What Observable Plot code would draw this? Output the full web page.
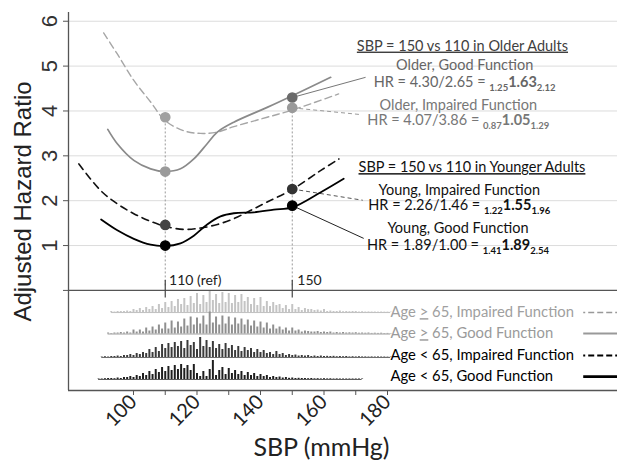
<!DOCTYPE html>
<html><head><meta charset="utf-8">
<script src="https://cdn.jsdelivr.net/npm/d3@7"></script>
<script src="https://cdn.jsdelivr.net/npm/@observablehq/plot@0.6"></script>
<style>body{margin:0;background:#fff} svg{display:block}</style>
</head><body><div id="chart"></div>
<script>
// ---------- data ----------
const olderImpairedSBP = [90.6, 94.9, 100.1, 105.4, 109.9, 115.8, 121.1, 126.4, 131.6, 142.1, 150, 164.6];
const olderImpairedHR  = [5.74, 5.27, 4.68, 4.20, 3.79, 3.56, 3.50, 3.53, 3.65, 3.86, 4.02, 4.38];
const olderGoodSBP = [91.9, 94.9, 100.1, 105.4, 109.9, 114.8, 119, 123.2, 126.4, 131.6, 142.1, 150, 162.1];
const olderGoodHR  = [3.59, 3.27, 2.90, 2.71, 2.65, 2.71, 2.93, 3.27, 3.53, 3.75, 4.08, 4.34, 4.75];
const youngImpairedSBP = [82.8, 89.6, 94.9, 100.1, 105.4, 109.9, 115.8, 121.1, 126.4, 131.6, 136.8, 142.1, 150, 158.9, 164.7];
const youngImpairedHR  = [2.82, 2.23, 1.93, 1.71, 1.54, 1.43, 1.36, 1.39, 1.47, 1.60, 1.78, 1.97, 2.25, 2.67, 2.93];
const youngGoodSBP = [89.8, 94.9, 100.1, 105.4, 109.9, 114.8, 119, 123.2, 127.4, 131.6, 137.9, 144.2, 150, 159, 166.2];
const youngGoodHR  = [1.58, 1.34, 1.15, 1.02, 0.99, 1.05, 1.22, 1.47, 1.65, 1.72, 1.74, 1.80, 1.85, 2.19, 2.49];

const groups = ["Older, Good Function", "Older, Impaired Function", "Young, Impaired Function", "Young, Good Function"];
const refSBP = [110, 110, 110, 110];
const cmpSBP = [150, 150, 150, 150];
const refHR = [2.65, 3.86, 1.46, 1.00];
const cmpHR = [4.30, 4.07, 2.26, 1.89];
const hrLo  = ["1.25", "0.87", "1.22", "1.41"];
const hrEst = ["1.63", "1.05", "1.55", "1.89"];
const hrHi  = ["2.12", "1.29", "1.96", "2.54"];
const headings = ["SBP = 150 vs 110 in Older Adults", "SBP = 150 vs 110 in Younger Adults"];

const legendLabels = ["Age \u2265 65, Impaired Function", "Age \u2265 65, Good Function", "Age < 65, Impaired Function", "Age < 65, Good Function"];

const yTicks = [1, 2, 3, 4, 5, 6];
const xTicks = [100, 110, 120, 130, 140, 150, 160, 170, 180];
const xTickLabels = ["100", "", "120", "", "140", "", "160", "", "180"];

// SBP distributions (1 mmHg bins, relative frequency)
const histOlderImpairedStart = 93;
const histOlderImpaired = [1,0.5,1,1,1,1.5,1,3,2,4,2,5,3,6,3,8,4,10,5,11,6,13,8,14,7,16,9,19,8,17,10,21,12,18,9,20,10,19,9,17,10,18,11,15,8,14,7,15,6,11,6,10,7,8,4,7,3,8,3,5,2,4,3,3,2,2.5,1.5,3,1,1.5,1,1,1.5,0.8,1,0.8,1,1,0.5,0.8,0.5,0.6,0.5,0.5,0.4,0.5,0.4,0.4,0.4];
const histOlderGoodStart = 92;
const histOlderGood = [1,0.5,1,1,1.5,1,2,1,4,2,4,2,6,3,7,4,9,5,11,5,13,6,12,7,15,8,17,9,16,10,18,9,22,11,17,9,18,10,17,9,16,10,15,9,14,8,13,7,12,6,11,5,9,5,7,4,6,3,6,3,4,2,3,2.5,2,2,2.5,1.5,2,1.5,2,1,1.5,1,1.5,1,1.2,1,1.3,0.8,1,0.8,1,0.6,0.8,0.6,0.8,0.5,0.6,0.4];
const histYoungImpairedStart = 90;
const histYoungImpaired = [0.5,0.8,0.5,1,1,1.5,1,2,2,3,2,4,3,5,4,8,5,10,6,13,9,14,10,15,11,16,9,17,12,15,8,20,11,17,10,16,9,13,8,14,9,12,7,11,6,10,7,9,5,8,5,7,4,5,3,6,3,4,2,3,2,2.5,1.5,2,1.5,2,1,1.5,1,1.5,1,1.2,1,1.2,0.8,1,0.8,1,0.6,0.8,0.6,0.8,0.6,0.6,0.5,0.6,0.5,0.6,0.5,0.5,0.4,0.4];
const histYoungGoodStart = 89;
const histYoungGood = [0.5,0.5,0.8,1,1,0.8,1.5,1,2,2,3,2,4,3,6,4,8,5,10,7,12,8,13,9,14,10,15,11,14,9,15,6,3,8,3,10,19,4,9,12,5,11,6,9,5,8,4,7,4,6,3,5,3,4,2,3,2,2.5,1.5,2,1.2,1.5,1,1.2,1,1,0.8,1,0.7,0.8,0.6,0.8,0.6,0.7,0.5,0.6,0.5,0.5,0.5,0.5,0.5,0.5,0.5,0.5];

// ---------- layout / style ----------
const xDomain = [79.528, 252.44];
const yDomain = [-2.231, 6.195];
const rowBase = [-0.493, -0.972, -1.496, -1.986];
const histUnit = 0.0223;
const txt = "Lato, 'Open Sans', sans-serif";
const arial = "'Liberation Sans', Arial, sans-serif";

const toPts = (xs, ys) => xs.map((x, i) => ({x, y: ys[i]}));
const hist = (start, vals, base) => vals.map((f, i) => ({x: start + i, y1: base, y2: base + f * histUnit}));

const curveStyles = [
  {pts: toPts(olderImpairedSBP, olderImpairedHR), stroke: "#a6a6a6", w: 1.4, dash: "7,4"},
  {pts: toPts(olderGoodSBP, olderGoodHR), stroke: "#8a8a8a", w: 1.7, dash: null},
  {pts: toPts(youngImpairedSBP, youngImpairedHR), stroke: "#111", w: 1.6, dash: "7,5"},
  {pts: toPts(youngGoodSBP, youngGoodHR), stroke: "#000", w: 1.8, dash: null}
];

const hists = [
  {d: hist(histOlderImpairedStart, histOlderImpaired, rowBase[0]), stroke: "#c4c4c4", base: "#b0b0b0"},
  {d: hist(histOlderGoodStart, histOlderGood, rowBase[1]), stroke: "#8f8f8f", base: "#888"},
  {d: hist(histYoungImpairedStart, histYoungImpaired, rowBase[2]), stroke: "#3a3a3a", base: "#444"},
  {d: hist(histYoungGoodStart, histYoungGood, rowBase[3]), stroke: "#1e1e1e", base: "#333"}
];
const histEnd = [181, 181, 181, 172];

// point colours: [ref, cmp] per group
const ptColors = [["#9a9a9a", "#6a6a6a"], ["#a0a0a0", "#9a9a9a"], ["#444", "#333"], ["#000", "#000"]];
const points = groups.flatMap((g, i) => [
  {x: refSBP[i], y: refHR[i], c: ptColors[i][0]},
  {x: cmpSBP[i], y: cmpHR[i], c: ptColors[i][1]}
]);

// connectors from the 150 points to the annotations
const connEnd = [[173.1, 4.75], [171.5, 3.92], [172.2, 2.01], [172.5, 1.16]];
const connStyle = [{s: "#777", dash: null}, {s: "#9a9a9a", dash: "4,3"}, {s: "#555", dash: "4,3"}, {s: "#222", dash: null}];

// annotation layout
const annX = [204.3, 202.3, 202.6, 202.2];
const annTitleY = [5.01, 4.13, 2.23, 1.38];
const annHRY = [4.63, 3.78, 1.89, 1.01];
const annColor = ["#666", "#777", "#111", "#111"];
const headX = [203.6, 206.6];
const headY = [5.45, 2.74];
const headColor = ["#404040", "#111"];

const legendY = [-0.49, -0.96, -1.45, -1.92];
const legendColor = ["#a0a0a0", "#9a9a9a", "#000", "#000"];
const legendWeight = ["normal", "normal", "bold", "bold"];
const legendLine = [
  {s: "#999", w: 1.5, dash: "2,3,6,3,6,3,6,3"},
  {s: "#999", w: 2.2, dash: null},
  {s: "#000", w: 2, dash: "2,3,6,3,6,3,6,3"},
  {s: "#000", w: 2.8, dash: null}
];
const legendX1 = 241.8;

const marks = [
  // gridlines
  Plot.ruleY(yTicks, {stroke: "#dcdcdc", strokeWidth: 1}),
  // histograms: baseline + spikes
  ...hists.map((h, i) => Plot.ruleY([rowBase[i]], {x1: h.d[0].x, x2: histEnd[i], stroke: h.base, strokeWidth: 0.8})),
  ...hists.map(h => Plot.ruleX(h.d, {x: "x", y1: "y1", y2: "y2", stroke: h.stroke, strokeWidth: 2})),
  // frame lines
  Plot.ruleY([0, yDomain[0]], {stroke: "#555", strokeWidth: 1.3}),
  Plot.ruleX([xDomain[0]], {y1: yDomain[0], y2: yDomain[1], stroke: "#555", strokeWidth: 1.3}),
  // dotted guides at 110 and 150
  Plot.ruleX([{x: refSBP[1], y: refHR[1]}], {x: "x", y1: 0.1, y2: "y", stroke: "#999", strokeDasharray: "2,2"}),
  Plot.ruleX([{x: cmpSBP[1], y: cmpHR[1]}], {x: "x", y1: 0.1, y2: "y", stroke: "#999", strokeDasharray: "2,2"}),
  Plot.ruleX([110, 150], {y1: -0.17, y2: 0.22, stroke: "#444", strokeWidth: 1.2}),
  Plot.text(["110 (ref)", "150"], {x: [111.2, 151.6], y: [0.22, 0.22], text: d => d, textAnchor: "start", fontFamily: txt, fontSize: 14, fill: "#222"}),
  // connectors
  ...groups.map((g, i) => Plot.link([0], {x1: cmpSBP[i], y1: cmpHR[i], x2: connEnd[i][0], y2: connEnd[i][1], stroke: connStyle[i].s, strokeWidth: 1, strokeDasharray: connStyle[i].dash})),
  // curves
  ...curveStyles.map(c => Plot.line(c.pts, {x: "x", y: "y", stroke: c.stroke, strokeWidth: c.w, strokeDasharray: c.dash, curve: "catmull-rom"})),
  // points
  Plot.dot(points, {x: "x", y: "y", r: 4.6, fill: "c", stroke: "c"}),
  // annotations
  Plot.text(headings, {x: headX, y: headY, text: d => d, fill: (d, i) => headColor[i], fontFamily: txt, fontSize: 14.5, className: "hdr"}),
  Plot.text(groups, {x: annX, y: annTitleY, text: d => d, fill: (d, i) => annColor[i], fontFamily: txt, fontSize: 14.5}),
  Plot.text(groups, {x: annX, y: annHRY, text: (d, i) => "HR", fill: (d, i) => annColor[i], fontFamily: txt, fontSize: 14.5, className: "hrtxt"}),
  // legend
  Plot.text(legendLabels, {x: 180.95, y: legendY, text: d => d, textAnchor: "start", fill: (d, i) => legendColor[i], fontWeight: (d, i) => legendWeight[i], fontFamily: txt, fontSize: 14.8, className: "legtxt"}),
  ...legendLine.map((l, i) => Plot.ruleY([legendY[i]], {x1: legendX1, x2: xDomain[1], stroke: l.s, strokeWidth: l.w, strokeDasharray: l.dash})),
  // axes
  Plot.axisY([0, ...yTicks], {tickFormat: () => "", tickSize: 5, stroke: "#555"}),
  Plot.text(yTicks, {x: xDomain[0], y: d => d, text: d => String(d), rotate: -90, textAnchor: "middle", dx: -19, fontFamily: arial, fontSize: 22, fill: "#333"}),
  Plot.text(["Adjusted Hazard Ratio"], {x: [xDomain[0]], y: [(yDomain[0] + yDomain[1]) / 2], rotate: -90, textAnchor: "middle", dx: -45, fontFamily: arial, fontSize: 24, fill: "#222"}),
  Plot.axisX(xTicks, {tickFormat: (d, i) => xTickLabels[i], tickRotate: -45, tickSize: 5, tickPadding: 3, fontFamily: txt, fontSize: 20, stroke: "#555", fill: "#222", label: null}),
  Plot.text(["SBP (mmHg)"], {x: [159.2], y: [yDomain[0]], dy: 57, fontFamily: txt, fontSize: 25, fill: "#222"})
];

const chart = Plot.plot({
  width: 617, height: 460,
  marginLeft: 68, marginRight: 0, marginTop: 12, marginBottom: 70,
  x: {domain: xDomain, axis: null},
  y: {domain: yDomain, axis: null},
  style: {background: "#fff", overflow: "visible"},
  marks
});

// rich text: underline headings, subscripts in HR lines
d3.select(chart).selectAll("g.hdr text").style("text-decoration", "underline");
d3.select(chart).selectAll("g.hrtxt text").each(function(_, i) {
  const t = d3.select(this);
  const prefix = `HR = ${cmpHR[i].toFixed(2)}/${refHR[i].toFixed(2)} = `;
  t.text(null);
  t.append("tspan").text(prefix);
  t.append("tspan").attr("dy", 4).attr("font-size", 9.5).attr("font-weight", "bold").text(hrLo[i]);
  t.append("tspan").attr("dy", -4).attr("font-weight", "bold").text(hrEst[i]);
  t.append("tspan").attr("dy", 4).attr("font-size", 9.5).attr("font-weight", "bold").text(hrHi[i]);
});
d3.select(chart).selectAll("g.legtxt text").each(function(_, i) {
  if (i < 2) {
    const t = d3.select(this);
    t.text(null);
    t.append("tspan").text("Age ");
    t.append("tspan").style("text-decoration", "underline").text(">");
    t.append("tspan").text(legendLabels[i].slice(5));
  }
});
document.getElementById("chart").appendChild(chart);
</script>
</body></html>
